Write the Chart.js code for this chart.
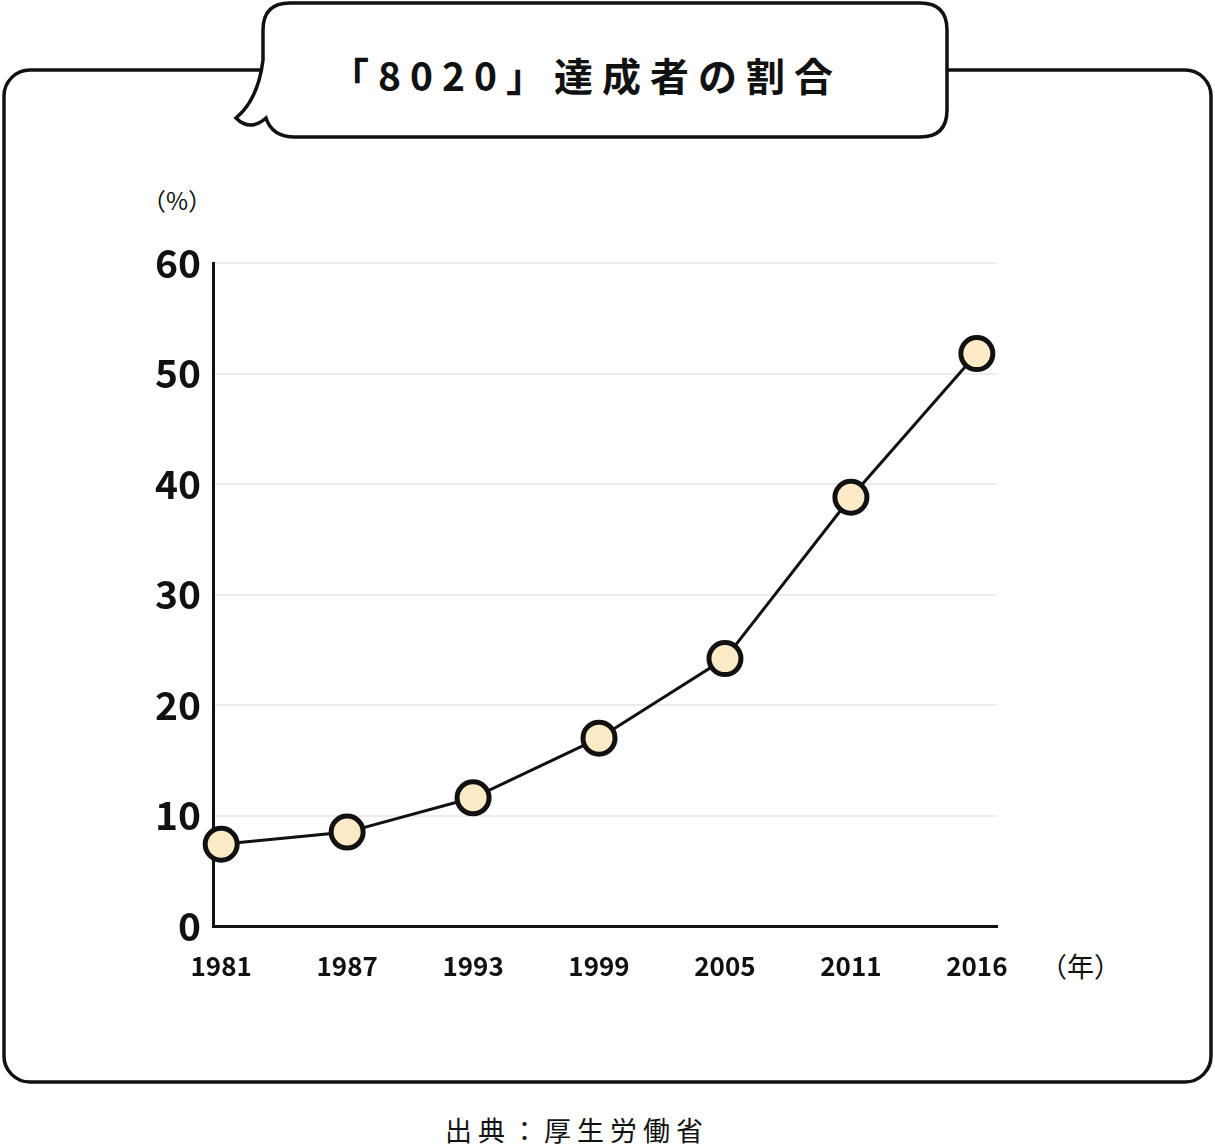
<!DOCTYPE html>
<html><head><meta charset="utf-8">
<script src="https://cdn.jsdelivr.net/npm/chart.js@4"></script>
<style>
body{margin:0;background:#fff;width:1215px;height:1145px;position:relative;overflow:hidden;font-family:"Noto Sans CJK JP","Noto Sans",sans-serif}
#wrap{position:absolute;left:0;top:0;width:1215px;height:1145px}
.t{position:absolute;font-weight:bold;color:#111;white-space:nowrap}
</style></head><body>
<svg width="1215" height="1145" style="position:absolute;left:0;top:0">
<rect x="4" y="70" width="1207" height="1012" rx="26" fill="#fff" stroke="#111" stroke-width="3.5"/>
<path d="M290,3 H920 Q947,3 947,30 V110 Q947,137 920,137 H295 Q272,137 266,118 Q250,132 236,118 Q258,100 263,60 V30 Q263,3 290,3 Z" fill="#fff" stroke="#111" stroke-width="3.5"/>
</svg>
<div class="t" style="left:330px;top:46px;font-size:39px;letter-spacing:9px">「8020」達成者の割合</div>
<div class="t" style="left:142px;top:182px;font-size:24px;font-weight:normal">（%）</div>
<div class="t" style="left:1040px;top:946px;font-size:27px;font-weight:normal">（年）</div>
<div class="t" style="left:445px;top:1110px;font-size:27px;font-weight:normal;letter-spacing:6px">出典：厚生労働省</div>
<div id="wrap"><canvas id="c"></canvas></div>
<script>
const years=["1981","1987","1993","1999","2005","2011","2016"];
const values=[7.4,8.5,11.6,17.0,24.2,38.8,51.8];
const yTicks=[0,10,20,30,40,50,60];
const F='"Noto Sans CJK JP","Noto Sans",sans-serif';
new Chart(document.getElementById('c'),{
type:'line',
data:{datasets:[{data:values.map((v,i)=>({x:i,y:v})),borderColor:'#111',borderWidth:3,
pointRadius:16,pointHoverRadius:16,pointBackgroundColor:'#fdebc8',pointBorderColor:'#111',pointBorderWidth:5,clip:false,tension:0}]},
options:{responsive:true,maintainAspectRatio:false,animation:false,
layout:{padding:{left:0,top:263,right:218,bottom:0}},
plugins:{legend:{display:false},tooltip:{enabled:false}},
scales:{
x:{type:'linear',min:-0.065,max:6.16,afterFit:s=>{s.height=219;},
 afterBuildTicks:s=>{s.ticks=years.map((y,i)=>({value:i}));},
 grid:{display:false},border:{color:'#111',width:3},
 ticks:{padding:17,color:'#111',font:{family:F,size:26,weight:'bold'},callback:(v,i)=>years[i]}},
y:{min:0,max:60,afterFit:s=>{s.width=213;},
 afterBuildTicks:s=>{s.ticks=yTicks.map(v=>({value:v}));},
 grid:{color:'#ececec',lineWidth:2,drawTicks:false},border:{color:'#111',width:3},
 ticks:{padding:12,color:'#111',font:{family:F,size:39,weight:'bold'}}}
}}});
</script></body></html>
